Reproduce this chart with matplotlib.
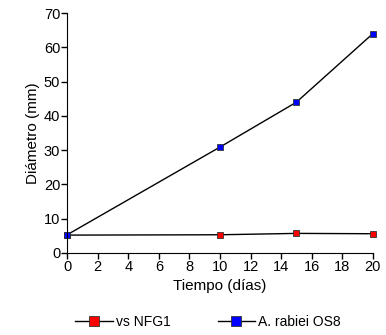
import matplotlib.pyplot as plt

plt.rcParams['font.family'] = ['Liberation Sans', 'DejaVu Sans']

dias = [0, 10, 15, 20]
vs_nfg1 = [5.2, 5.3, 5.7, 5.6]
os8 = [5.3, 30.9, 44.0, 64.0]

fig = plt.figure(figsize=(3.86, 3.35), dpi=100)
ax = fig.add_axes([0.174, 0.245, 0.792, 0.716])

l1, = ax.plot(dias, vs_nfg1, color='black', lw=1, marker='s', ms=4.5,
              mfc='red', mec='#333333', mew=0.6, label='vs NFG1', clip_on=False)
l2, = ax.plot(dias, os8, color='black', lw=1, marker='s', ms=4.5,
              mfc='blue', mec='#333333', mew=0.6, label='A. rabiei OS8', clip_on=False)

ax.set_xlim(0, 20)
ax.set_ylim(0, 70)
ax.set_xticks(range(0, 21, 2))
ax.set_yticks(range(0, 71, 10))
for s in ['top', 'right']:
    ax.spines[s].set_visible(False)
ax.tick_params(direction='out', length=4, width=1, labelsize=10.5, pad=1)
ax.set_xlabel('Tiempo (días)', fontsize=11, labelpad=4)
ax.set_ylabel('Diámetro (mm)', fontsize=11, labelpad=3)

fig.legend(handles=[l1, l2], loc='center', bbox_to_anchor=(0.539, 0.038), ncol=2,
           frameon=False, fontsize=10, handlelength=2.7, handletextpad=0.2,
           columnspacing=3.4, markerscale=1.6)

fig.savefig('out.png', dpi=100)
